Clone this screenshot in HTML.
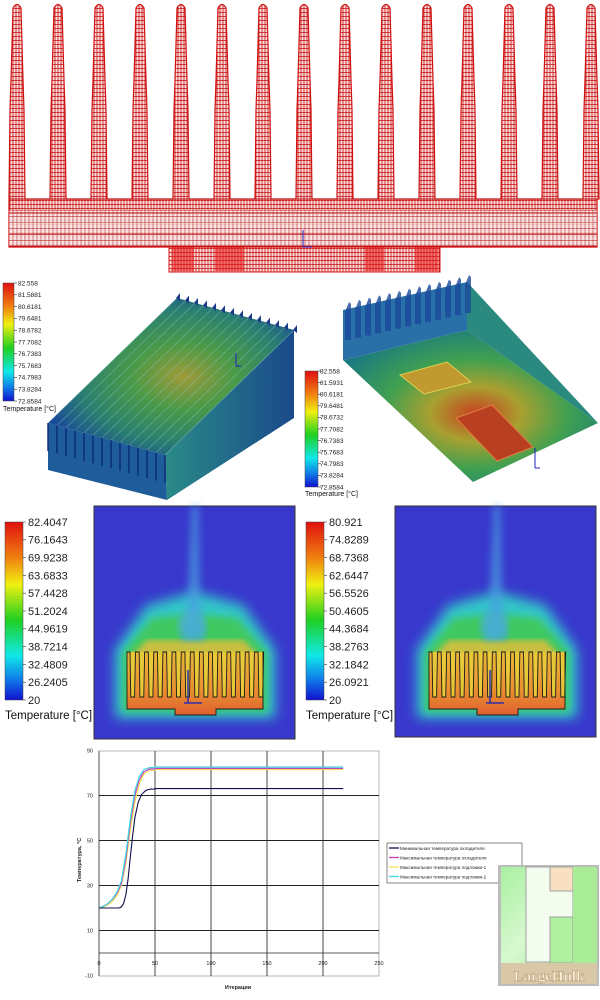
<!DOCTYPE html>
<html><head><meta charset="utf-8"><style>
html,body{margin:0;padding:0;background:#fff;}
svg{display:block;font-family:"Liberation Sans","DejaVu Sans",sans-serif;}
</style></head><body>
<svg id="s" width="600" height="1000" viewBox="0 0 600 1000" xmlns="http://www.w3.org/2000/svg">
<defs>
<pattern id="mesh" width="3" height="4" patternUnits="userSpaceOnUse">
<rect width="3" height="4" fill="#f8dede"/>
<path d="M0 0.5H3M1 0V4" stroke="#c81010" stroke-width="0.8"/>
</pattern>
<pattern id="mesh2" width="4" height="6" patternUnits="userSpaceOnUse">
<rect width="4" height="6" fill="#fdf0f0"/>
<path d="M0 0.5H4M1 0V6" stroke="#b01818" stroke-width="0.6"/>
</pattern>
<linearGradient id="cb" x1="0" y1="0" x2="0" y2="1">
<stop offset="0" stop-color="#e01010"/><stop offset="0.2" stop-color="#f08010"/>
<stop offset="0.35" stop-color="#f0f010"/><stop offset="0.55" stop-color="#20d020"/>
<stop offset="0.75" stop-color="#10e8e8"/><stop offset="0.88" stop-color="#1080e8"/>
<stop offset="1" stop-color="#1010d0"/></linearGradient>
<radialGradient id="topL" cx="0.55" cy="0.5" r="0.6">
<stop offset="0" stop-color="#a09a38"/><stop offset="0.35" stop-color="#4a9a48"/>
<stop offset="0.7" stop-color="#2a8070"/><stop offset="1" stop-color="#1a4a9a"/></radialGradient>
<linearGradient id="sideR" x1="0" y1="0" x2="1" y2="0">
<stop offset="0" stop-color="#2a8a88"/><stop offset="1" stop-color="#1a4a8a"/></linearGradient>
<radialGradient id="botR" cx="0.52" cy="0.55" r="0.6">
<stop offset="0" stop-color="#c84020"/><stop offset="0.3" stop-color="#a8a030"/>
<stop offset="0.6" stop-color="#40a050"/><stop offset="1" stop-color="#1a7a80"/></radialGradient>
<linearGradient id="hs" x1="0" y1="0" x2="0" y2="1">
<stop offset="0" stop-color="#e8b838"/><stop offset="0.6" stop-color="#e89030"/><stop offset="1" stop-color="#e06030"/></linearGradient>
<filter id="b6"><feGaussianBlur stdDeviation="6"/></filter>
<filter id="b4"><feGaussianBlur stdDeviation="4"/></filter>
<filter id="b3"><feGaussianBlur stdDeviation="3"/></filter>
<linearGradient id="wm" x1="0" y1="0" x2="1" y2="1">
<stop offset="0" stop-color="#a8f0a0"/><stop offset="0.5" stop-color="#d8f8d0"/><stop offset="1" stop-color="#a0e890"/></linearGradient>
</defs>
<g id="mesh-g"></g>
<g id="mid"></g>
<g id="panels"></g>
<g id="chart"></g>
</svg>
<script>
var NS="http://www.w3.org/2000/svg";
function el(p,t,a,txt){var e=document.createElementNS(NS,t);for(var k in a)e.setAttribute(k,a[k]);if(txt!==undefined)e.textContent=txt;p.appendChild(e);return e;}
var g=document.getElementById('mesh-g');
var cs=[];for(var i=0;i<15;i++)cs.push(17+i*41);
var p="M9 247 ";
for(var i=0;i<15;i++){var c=cs[i];
 p+="L"+(c-8)+" 199 L"+(c-7)+" 110 L"+(c-6)+" 80 L"+(c-4)+" 8 Q"+c+" 1 "+(c+4)+" 8 L"+(c+6)+" 80 L"+(c+7)+" 110 L"+(c+8)+" 199 ";}
p+="L597 199 L597 247 Z";
el(g,'path',{d:p,fill:'url(#mesh)',stroke:'#d01010','stroke-width':'1.2'});
el(g,'rect',{x:9,y:210,width:588,height:36,fill:'url(#mesh2)',opacity:'0.85'});
el(g,'path',{d:"M9 246H597M9 199H597M9 213H597M9 234H597",stroke:'#c01010','stroke-width':'1'});
el(g,'rect',{x:169,y:247,width:271,height:25,fill:'url(#mesh)',stroke:'#d01010','stroke-width':'1'});
[[172,194],[215,244],[365,384],[415,438]].forEach(function(r){el(g,'rect',{x:r[0],y:247,width:r[1]-r[0],height:24,fill:'#e81818',opacity:'0.55'});});
el(g,'path',{d:"M303 230V247M303 247H312",stroke:'#2020c0','stroke-width':'1'});
var m=document.getElementById('mid');
function cbar(par,x,y,w,h,labels,fs,lx,tly,tfs){
 el(par,'rect',{x:x,y:y,width:w,height:h,fill:'url(#cb)',stroke:'#444','stroke-width':'0.5'});
 for(var i=0;i<labels.length;i++){var yy=y+h*i/(labels.length-1);
  el(par,'line',{x1:x+w,y1:yy,x2:x+w+3,y2:yy,stroke:'#333','stroke-width':'0.6'});
  el(par,'text',{x:lx,y:yy+fs*0.35,'font-size':fs,fill:'#222'},labels[i]);}
 el(par,'text',{x:x,y:tly,'font-size':tfs,fill:'#111'},'Temperature [°C]');}
cbar(m,3,283,11,118,['82.558','81.5881','80.6181','79.6481','78.6782','77.7082','76.7383','75.7683','74.7983','73.8284','72.8584'],6.5,18,411,7);
el(m,'polygon',{points:"48,423 177,298 294,330 165,455",fill:'url(#topL)'});
el(m,'polygon',{points:"48,423 165,455 167,500 48,470",fill:'#1e5c9a'});
el(m,'polygon',{points:"165,455 294,330 294,418 167,500",fill:'url(#sideR)'});
for(var i=0;i<14;i++){var t=i/13;var x1=48+t*117,y1=423+t*32;var x2=177+t*117,y2=298+t*32;
 el(m,'line',{x1:x1,y1:y1,x2:x2,y2:y2,stroke:'#8ac8c0','stroke-width':'0.8',opacity:'0.45'});
 el(m,'line',{x1:x1,y1:y1,x2:x1,y2:y1+28,stroke:'#0a2a7a','stroke-width':'2',opacity:'0.7'});
 el(m,'polygon',{points:(x2-1)+","+y2+" "+(x2+3)+","+(y2-5)+" "+(x2+3)+","+(y2+3),fill:'#1a3a8a'});}
el(m,'path',{d:"M236 353V366M236 366h5",stroke:'#2020c0','stroke-width':'1'});
el(m,'polygon',{points:"343,360 467,330 598,423 473,482",fill:'url(#botR)'});
el(m,'polygon',{points:"343,310 467,282 467,330 343,360",fill:'#2a70a8'});
el(m,'polygon',{points:"467,282 598,423 467,330",fill:'#2a8a80'});
for(var i=0;i<13;i++){var t=i/12;var x=345+t*120,y=310-t*27;
 el(m,'polygon',{points:x+","+(y+2)+" "+(x+4)+","+(y-8)+" "+(x+6)+","+(y-6)+" "+(x+6)+","+(y+30)+" "+x+","+(y+30),fill:'#1a4a9a',opacity:'0.8'});}
el(m,'polygon',{points:"400,375 447,362 471,382 424,394",fill:'#c09a30',stroke:'#e0d050','stroke-width':'1'});
el(m,'polygon',{points:"456,418 492,405 533,447 497,461",fill:'#b84020',stroke:'#e08040','stroke-width':'1'});
el(m,'path',{d:"M535 448V468M535 468h5",stroke:'#2020c0','stroke-width':'1'});
cbar(m,305,371,13,116,['82.558','81.5931','80.6181','79.6481','78.6732','77.7082','76.7383','75.7683','74.7983','73.8284','72.8584'],6.5,320,496,7);
var P=document.getElementById('panels');
function panel(x0,y0,w,h,hx,labels){
 cbar(P,x0-89,522,18,178,labels,11,x0-66,719,11.5);
 el(P,'rect',{x:x0,y:y0,width:w,height:h,fill:'#3838cc',stroke:'#333','stroke-width':'1'});
 var gg=el(P,'g',{});
 var cx=hx+68;
 el(gg,'path',{d:"M"+(hx-12)+" 718 L"+(hx-12)+" 650 L"+(hx+20)+" 605 L"+(cx)+" 592 L"+(hx+116)+" 605 L"+(hx+148)+" 650 L"+(hx+148)+" 718 Z",fill:'#30c8c8',filter:'url(#b6)'});
 el(gg,'path',{d:"M"+(hx-4)+" 712 L"+(hx-4)+" 652 L"+(hx+25)+" 618 L"+cx+" 614 L"+(hx+110)+" 618 L"+(hx+140)+" 652 L"+(hx+140)+" 712 Z",fill:'#40c860',filter:'url(#b4)'});
 el(gg,'path',{d:"M"+(hx+2)+" 658 L"+(hx+20)+" 640 L"+(hx+116)+" 640 L"+(hx+134)+" 658 Z",fill:'#c8c040',filter:'url(#b3)'});
 el(gg,'path',{d:"M"+(cx-3)+" "+y0+" L"+(cx+3)+" "+y0+" L"+(cx+5)+" 600 L"+(cx+10)+" 640 L"+(cx-14)+" 640 L"+(cx-7)+" 600 Z",fill:'#4aa0e0',opacity:'0.75',filter:'url(#b4)'});
 el(gg,'ellipse',{cx:cx-3,cy:625,rx:14,ry:14,fill:'#48b0d8',opacity:'0.7',filter:'url(#b4)'});
 el(P,'rect',{x:hx,y:652,width:136,height:46,fill:'#e8c838'});
 var fp2="M"+hx+" 709 L"+hx+" 652 ";
 for(var i=0;i<15;i++){var fx=hx+i*9.15;fp2+="L"+(fx+3)+" 652 L"+(fx+3.8)+" 697 L"+(fx+7.6)+" 697 L"+(fx+8.5)+" 652 ";}
 fp2+="L"+(hx+136)+" 652 L"+(hx+136)+" 709 L"+(hx+89)+" 709 L"+(hx+89)+" 715 L"+(hx+48)+" 715 L"+(hx+48)+" 709 Z";
 el(P,'path',{d:fp2,fill:'url(#hs)',stroke:'#1a1a1a','stroke-width':'0.9'});
 el(P,'path',{d:"M"+(hx+61)+" 670V703M"+(hx+61)+" 703h14M"+(hx+57)+" 703h6",stroke:'#3030b0','stroke-width':'1.5'});
}
panel(94,506,201,233,127,['82.4047','76.1643','69.9238','63.6833','57.4428','51.2024','44.9619','38.7214','32.4809','26.2405','20']);
panel(395,506,201,231,429,['80.921','74.8289','68.7368','62.6447','56.5526','50.4605','44.3684','38.2763','32.1842','26.0921','20']);
var C=document.getElementById('chart');
function X(i){return 99+i*1.12;}function Y(v){return 953-v*2.25;}
el(C,'rect',{x:99,y:751,width:280,height:225,fill:'#fff',stroke:'#888','stroke-width':'0.6'});
[70,50,30,10,0].forEach(function(v){el(C,'line',{x1:99,y1:Y(v),x2:379,y2:Y(v),stroke:'#222','stroke-width':v==0?0.8:1});});
[50,100,150,200].forEach(function(v){el(C,'line',{x1:X(v),y1:751,x2:X(v),y2:976,stroke:'#333','stroke-width':'0.9'});});
el(C,'line',{x1:99,y1:751,x2:99,y2:976,stroke:'#333','stroke-width':'0.8'});
[90,70,50,30,10,-10].forEach(function(v){el(C,'text',{x:93,y:Y(v)+2,'font-size':5.5,'text-anchor':'end',fill:'#222'},v);});
[0,50,100,150,200,250].forEach(function(v){el(C,'text',{x:X(v),y:965,'font-size':5.5,'text-anchor':'middle',fill:'#222'},v);});
el(C,'text',{x:238,y:989,'font-size':5.5,'font-weight':'bold','text-anchor':'middle',fill:'#222'},'Итерации');
el(C,'text',{x:0,y:0,'font-size':5.5,'font-weight':'bold','text-anchor':'middle',fill:'#222',transform:'translate(81,860) rotate(-90)'},'Температура, °С');
function line(pts,col,w){var s="";pts.forEach(function(q,i){s+=(i?"L":"M")+X(q[0]).toFixed(1)+" "+Y(q[1]).toFixed(1)+" ";});
 var last=pts[pts.length-1][1];for(var i=50;i<=220;i+=6){s+="L"+X(i).toFixed(1)+" "+Y(last+(i%12?0.25:-0.2)).toFixed(1)+" ";}
 el(C,'path',{d:s,fill:'none',stroke:col,'stroke-width':w});}
line([[0,20],[4,20.5],[8,21.5],[12,23],[16,25.5],[20,30],[24,40],[28,55],[32,67],[36,75],[40,79.5],[45,81.2],[50,81.3]],'#f0e050',1.2);
line([[0,20],[4,20.8],[8,22],[12,23.8],[16,26.5],[20,31],[24,42],[28,58],[32,70],[36,77],[40,80.5],[45,81.8],[50,81.8]],'#c040c0',1.2);
line([[0,20],[4,20.8],[8,22],[12,24],[16,27],[20,32],[24,44],[28,60],[32,72],[36,78.5],[40,81.5],[45,82.4],[50,82.4]],'#40d8e0',1.2);
line([[0,20],[18,20],[20,20.5],[22,22],[24,26],[26,33],[28,43],[30,52],[32,60],[35,67],[38,70.5],[42,72.3],[46,72.9],[50,72.8]],'#101050',1.1);
el(C,'rect',{x:387,y:843,width:135,height:40,fill:'#fff',stroke:'#333','stroke-width':'0.6'});
var L=[['#101050','Минимальная температура охладителя'],['#c040c0','Максимальная температура охладителя'],['#f0e050','Максимальная температура подложки-1'],['#40d8e0','Максимальная температура подложки-2']];
L.forEach(function(l,i){var y=848+i*9.5;el(C,'line',{x1:389,y1:y,x2:399,y2:y,stroke:l[0],'stroke-width':'1.3'});
 el(C,'text',{x:400,y:y+2,'font-size':4.6,fill:'#222'},l[1]);});
el(C,'rect',{x:498,y:865,width:101,height:121,fill:'#bcbcbc'});
el(C,'rect',{x:501,y:867,width:96,height:96,fill:'url(#wm)'});
el(C,'path',{d:"M526 867H573V962H526Z",fill:'#f4fcf0',stroke:'#a0a0a0','stroke-width':'1'});
el(C,'rect',{x:550,y:867,width:23,height:24,fill:'#f8e0c0',stroke:'#a0a0a0','stroke-width':'1'});
el(C,'rect',{x:550,y:917,width:23,height:46,fill:'#b0f0a0',stroke:'#a0a0a0','stroke-width':'1'});
el(C,'rect',{x:573,y:867,width:24,height:96,fill:'#a8ec98'});
el(C,'rect',{x:501,y:963,width:96,height:21,fill:'#d8c8a8'});
el(C,'text',{x:549,y:981,'font-size':15,'font-weight':'bold','font-family':'Liberation Serif,serif','text-anchor':'middle',fill:'#f8f0e0',stroke:'#b09060','stroke-width':'0.4'},'LargeHulk');
</script>
</body></html>
